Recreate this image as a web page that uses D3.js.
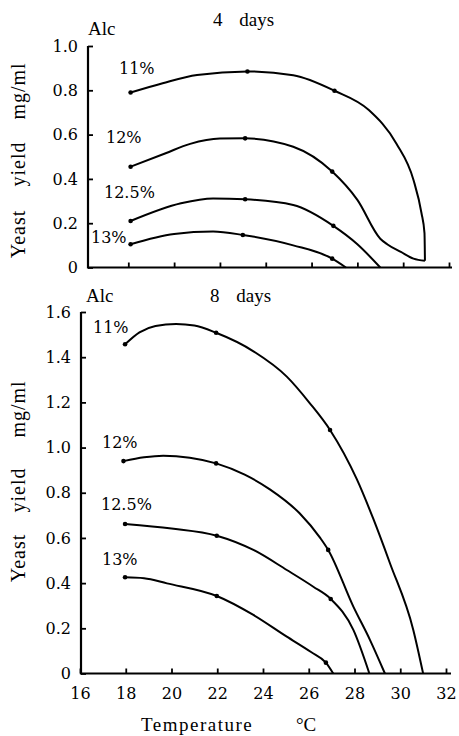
<!DOCTYPE html>
<html>
<head>
<meta charset="utf-8">
<script src="https://cdn.jsdelivr.net/npm/d3@7"></script>
<style>
  html, body { margin: 0; padding: 0; background: #fff; }
  svg { display: block; }
</style>
</head>
<body>
<svg id="chart" width="459" height="736"></svg>
<script>
// ---------- DATA ----------
const alcLabels = ["11%", "12%", "12.5%", "13%"];
const panelTitles = ["4 days", "8 days"];
const xTicks = [16, 18, 20, 22, 24, 26, 28, 30, 32];
const yTicksTop = [0, 0.2, 0.4, 0.6, 0.8, 1.0];
const yTicksBottom = [0, 0.2, 0.4, 0.6, 0.8, 1.0, 1.2, 1.4, 1.6];

// 4 days — curve traces [temperature, yield]
const day4_11 = [[18.1,0.79],[19.5,0.832],[21.0,0.869],[23.2,0.885],[25.2,0.868],[27.0,0.798],[28.5,0.711],[29.7,0.56],[30.45,0.395],[30.8,0.245],[30.93,0.155],[30.95,0.03]];
const day4_12 = [[18.1,0.455],[19.63,0.516],[20.7,0.558],[22.0,0.582],[23.1,0.583],[25.2,0.545],[26.9,0.433],[28.0,0.305],[29.0,0.13],[29.3,0.105],[29.9,0.07],[30.45,0.04],[30.95,0.03]];
const day4_125 = [[18.1,0.21],[20.3,0.29],[21.7,0.312],[23.1,0.308],[25.2,0.282],[26.95,0.188],[28.0,0.105],[29.0,0]];
const day4_13 = [[18.1,0.105],[20.0,0.151],[21.7,0.162],[23.0,0.147],[25.2,0.10],[26.9,0.04],[27.5,0]];
// 4 days — measured points (dots)
const day4_11_pts = [[18.1,0.79],[23.2,0.885],[27.0,0.798]];
const day4_12_pts = [[18.1,0.455],[23.1,0.583],[26.9,0.433]];
const day4_125_pts = [[18.1,0.21],[23.1,0.308],[26.95,0.188]];
const day4_13_pts = [[18.1,0.105],[23.0,0.147],[26.9,0.04]];

// 8 days — curve traces
const day8_11 = [[17.97,1.457],[18.6,1.51],[19.3,1.538],[20.2,1.547],[21.0,1.54],[21.95,1.508],[23.6,1.425],[25.04,1.314],[26.05,1.196],[26.93,1.078],[28.1,0.86],[28.82,0.685],[29.55,0.488],[30.57,0.193],[31.0,0]];
const day8_12 = [[17.9,0.94],[18.8,0.957],[19.64,0.964],[20.8,0.955],[21.95,0.93],[23.2,0.88],[24.3,0.815],[25.6,0.709],[26.5,0.6],[26.85,0.547],[27.95,0.296],[28.68,0.148],[29.33,0]];
const day8_125 = [[17.97,0.662],[20.0,0.642],[21.98,0.61],[23.58,0.547],[25.04,0.458],[26.2,0.384],[26.96,0.33],[27.95,0.193],[28.65,0]];
const day8_13 = [[17.97,0.426],[18.8,0.422],[19.8,0.399],[21.98,0.343],[23.58,0.259],[25.04,0.163],[26.1,0.095],[26.75,0.048],[27.07,0]];
// 8 days — measured points
const day8_11_pts = [[17.97,1.457],[21.95,1.508],[26.93,1.078]];
const day8_12_pts = [[17.9,0.94],[21.95,0.93],[26.85,0.547]];
const day8_125_pts = [[17.97,0.662],[21.98,0.61],[26.96,0.33]];
const day8_13_pts = [[17.97,0.426],[21.98,0.343],[26.75,0.048]];

// ---------- DRAW ----------
const SERIF = "Liberation Serif";
const DIGITS = "DejaVu Serif";
const svg = d3.select("#chart");
svg.append("rect").attr("width", 459).attr("height", 736).attr("fill", "#fff");

const fmt = d => d === 0 ? "0" : d.toFixed(1);

function drawPanel(cfg) {
  const g = svg.append("g");
  const x = d3.scaleLinear().domain([16, 32]).range(cfg.xRange);
  const y = d3.scaleLinear().domain([0, cfg.yMax]).range(cfg.yRange);

  // x axis
  const xa = g.append("g").attr("transform", `translate(0,${cfg.yRange[0]})`)
    .call(d3.axisBottom(x).tickValues(cfg.xTickVals).tickSizeInner(-5).tickSizeOuter(0)
      .tickPadding(14).tickFormat(cfg.showXLabels ? d3.format("d") : ""));
  xa.attr("font-family", DIGITS).attr("font-size", 16);
  xa.select(".domain").remove();
  xa.selectAll(".tick line").attr("stroke", "#000").attr("stroke-width", 1.8);
  xa.selectAll(".tick text").attr("fill", "#000");
  g.append("line").attr("x1", cfg.axisX).attr("x2", cfg.xAxisEnd)
    .attr("y1", cfg.yRange[0]).attr("y2", cfg.yRange[0])
    .attr("stroke", "#000").attr("stroke-width", 2.2);

  // y axis
  const ya = g.append("g").attr("transform", `translate(${cfg.axisX},0)`)
    .call(d3.axisLeft(y).tickValues(cfg.yTickVals).tickSizeInner(-5).tickSizeOuter(0)
      .tickPadding(10).tickFormat(fmt));
  ya.attr("font-family", DIGITS).attr("font-size", 16);
  ya.select(".domain").remove();
  ya.selectAll(".tick line").attr("stroke", "#000").attr("stroke-width", 1.8);
  ya.selectAll(".tick text").attr("fill", "#000");
  g.append("line").attr("x1", cfg.axisX).attr("x2", cfg.axisX)
    .attr("y1", cfg.yRange[0] + 1).attr("y2", y(cfg.yMax))
    .attr("stroke", "#000").attr("stroke-width", 2.2);

  // curves
  const line = d3.line().x(d => x(d[0])).y(d => y(d[1])).curve(d3.curveMonotoneX);
  cfg.curves.forEach(c => {
    g.append("path").attr("d", line(c)).attr("fill", "none")
      .attr("stroke", "#000").attr("stroke-width", 2);
  });
  cfg.points.forEach(p => {
    g.selectAll(null).data(p).enter().append("circle")
      .attr("cx", d => x(d[0])).attr("cy", d => y(d[1])).attr("r", 2.3).attr("fill", "#000");
  });

  // labels
  g.append("text").attr("x", cfg.alcPos[0]).attr("y", cfg.alcPos[1])
    .attr("font-size", 19).attr("font-family", SERIF).text("Alc");
  g.append("text").attr("x", cfg.titlePos[0]).attr("y", cfg.titlePos[1])
    .attr("font-size", 19).attr("font-family", SERIF).attr("word-spacing", 12).text(cfg.title);
  alcLabels.forEach((lab, i) => {
    g.append("text").attr("x", cfg.labelPos[i][0]).attr("y", cfg.labelPos[i][1])
      .attr("font-size", 16).attr("font-family", DIGITS).text(lab);
  });
  // y label words
  const words = ["Yeast", "yield", "mg/ml"];
  words.forEach((w, i) => {
    g.append("text")
      .attr("transform", `translate(25,${cfg.yLabelCenters[i]}) rotate(-90)`)
      .attr("text-anchor", "middle").attr("font-size", 20).attr("font-family", SERIF)
      .attr("letter-spacing", 1).text(w);
  });
}

drawPanel({
  xRange: [82.5, 449], yRange: [267.5, 46], yMax: 1.0, axisX: 88, xAxisEnd: 452,
  xTickVals: xTicks.slice(1), yTickVals: yTicksTop, showXLabels: false,
  curves: [day4_11, day4_12, day4_125, day4_13],
  points: [day4_11_pts, day4_12_pts, day4_125_pts, day4_13_pts],
  alcPos: [88, 35], titlePos: [213, 26], title: panelTitles[0],
  labelPos: [[119, 74], [106, 143], [104, 198], [91, 243]],
  yLabelCenters: [234, 164, 91]
});

drawPanel({
  xRange: [80, 446], yRange: [673.5, 312], yMax: 1.6, axisX: 81, xAxisEnd: 451,
  xTickVals: xTicks, yTickVals: yTicksBottom, showXLabels: true,
  curves: [day8_11, day8_12, day8_125, day8_13],
  points: [day8_11_pts, day8_12_pts, day8_125_pts, day8_13_pts],
  alcPos: [86, 302], titlePos: [210, 302], title: panelTitles[1],
  labelPos: [[93, 333], [102, 448], [101, 510], [102, 565]],
  yLabelCenters: [558, 490, 409]
});

// x axis title
svg.append("text").attr("x", 141).attr("y", 731).attr("font-size", 19).attr("font-family", SERIF)
  .attr("letter-spacing", 1.5).text("Temperature");
svg.append("text").attr("x", 296).attr("y", 731).attr("font-size", 19).attr("font-family", SERIF)
  .text("°C");
</script>
</body>
</html>
